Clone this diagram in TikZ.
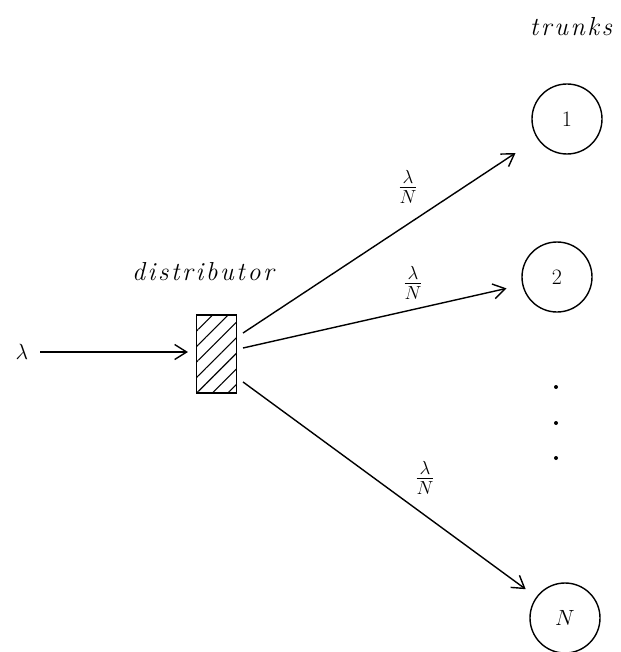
\RequirePackage{fix-cm}
\documentclass[tikz,border=0pt]{standalone}
\usepackage{fontspec}
\usetikzlibrary{arrows.meta,patterns.meta}
\newfontfamily\spacedfont[LetterSpace=10]{Latin Modern Roman}

\begin{document}
\begin{tikzpicture}[x=1pt,y=-1pt,line width=1.4pt,
    >={Straight Barb[length=12pt,width=15pt]},
    font=\fontsize{22}{26}\selectfont,
    trunk/.style={draw,circle,minimum size=70pt,inner sep=0pt},
    rate/.style={font=\fontsize{27}{30}\selectfont},
    itlabel/.style={anchor=base,font=\fontsize{26}{30}\selectfont\spacedfont\itshape}]
    \useasboundingbox (0,0) rectangle (620,652);

    %distributor
    \node[draw, minimum width=40pt, minimum height=78pt, inner sep=0pt,
        pattern={Lines[angle=45,distance=11pt,line width=1.1pt]}] (dist) at (216.5,354) {};
    \node[itlabel] (distname) at (203,280) {distributor};
    \node (lambda) at (22,352) {$\lambda$};
    \draw[->, shorten <=8pt, shorten >=8pt] (lambda) -- (lambda -| dist.west);

    %trunks
    \node[itlabel] (trunkname) at (571,36) {trunks};
    \node[trunk] (t1) at (567,119) {1};
    \node[trunk] (t2) at (557,277) {2};
    \node[trunk] (tN) at (565,618) {$N$};
    \foreach \y in {387,423,458}
        \fill (556,\y) circle (2pt);

    %branches
    \draw[->, shorten >=26pt] ([xshift=6pt,yshift=21pt]dist.east) -- (t1);
    \draw[->, shorten >=16pt] ([xshift=6pt,yshift=6pt]dist.east) -- (t2);
    \draw[->, shorten >=13pt] ([xshift=6pt,yshift=-28pt]dist.east) -- (tN);

    %labels
    \node[rate] (rate1) at (408,187) {$\frac{\lambda}{N}$};
    \node[rate] (rate2) at (413,283) {$\frac{\lambda}{N}$};
    \node[rate] (rateN) at (425,478) {$\frac{\lambda}{N}$};
\end{tikzpicture}
\end{document}
